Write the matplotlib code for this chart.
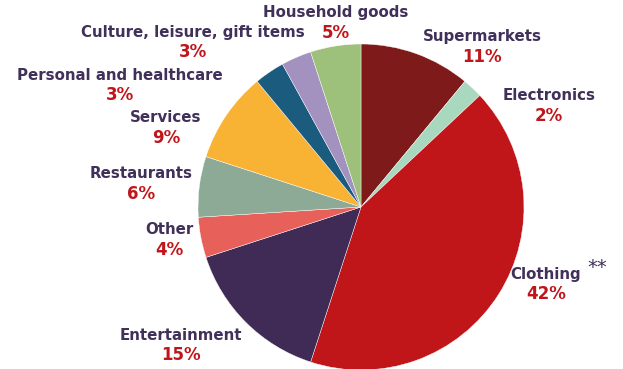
import matplotlib
matplotlib.use("Agg")
import matplotlib.pyplot as plt

categories = ["Supermarkets", "Electronics", "Clothing", "Entertainment", "Other",
              "Restaurants", "Services", "Personal and healthcare",
              "Culture, leisure, gift items", "Household goods"]
shares = [11, 2, 42, 15, 4, 6, 9, 3, 3, 5]
colors = ["#7F1A1A", "#A8D8BE", "#C0161A", "#3F2B55", "#E8605A",
          "#8DAA96", "#F9B334", "#1B5B7E", "#A392C0", "#9DC17A"]

# label anchor points (pixel space, origin top-left)
label_x = [482, 549, 546, 181, 169, 141, 166, 120, 193, 336]
label_y = [37, 96, 274, 335, 230, 174, 118, 75, 32, 13]

W, H = 623, 369
fig = plt.figure(figsize=(W / 100, H / 100), dpi=100)
ax = fig.add_axes([0, 0, 1, 1])

cx, cy, r = 361, H - 207, 163
ax.pie(shares, colors=colors, startangle=90, counterclock=False,
       center=(cx, cy), radius=r, frame=True,
       wedgeprops=dict(edgecolor="white", linewidth=0.3))
ax.set_xlim(0, W)
ax.set_ylim(0, H)
ax.set_aspect("equal")
ax.axis("off")

name_color = "#41305A"
pct_color = "#C0161B"
for name, v, x, y in zip(categories, shares, label_x, label_y):
    ax.text(x, H - y, name, ha="center", va="center", fontsize=10.8,
            fontweight="bold", color=name_color, family="DejaVu Sans")
    ax.text(x, H - y - 20, f"{v}%", ha="center", va="center", fontsize=12,
            fontweight="bold", color=pct_color, family="DejaVu Sans")

ax.text(597, H - 267, "**", ha="center", va="center", fontsize=14,
        color=name_color, family="DejaVu Sans")

fig.savefig("out.png", dpi=100)
